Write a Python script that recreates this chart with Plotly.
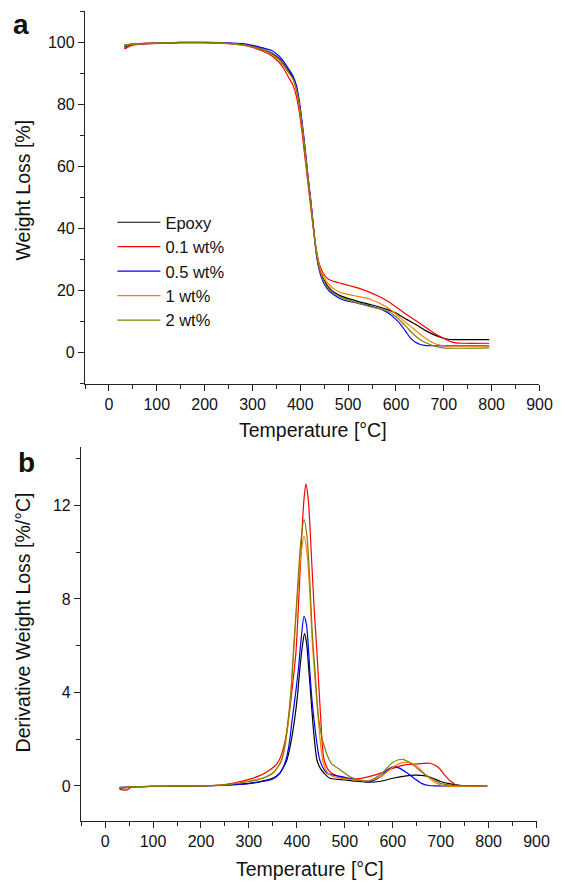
import plotly.graph_objects as go

# ---------------- Data ----------------
series_names = ["Epoxy", "0.1 wt%", "0.5 wt%", "1 wt%", "2 wt%"]
series_colors = ["#000000", "#ff0000", "#0000ff", "#ff8000", "#808000"]

# (a) TGA weight curves: temperature [°C] and weight [%]
tga_T_epoxy = [32, 40, 50, 75, 100, 150, 200, 250, 280, 300, 320, 340, 355, 365, 375, 385, 392, 398, 404, 410, 416, 419, 422, 428, 432, 436, 440, 446, 452, 460, 470, 487, 520, 548, 583, 600, 623, 645, 664, 680, 698, 710, 720, 795]
tga_W_epoxy = [98.3, 98.9, 99.2, 99.5, 99.7, 99.8, 99.8, 99.6, 99.2, 98.7, 97.8, 96.5, 94.8, 93.0, 90.8, 88.5, 85.0, 80.0, 73.0, 65.0, 56.5, 52.5, 48.5, 40.0, 34.5, 30.5, 27.5, 24.7, 22.8, 21.0, 19.6, 18.2, 16.6, 15.5, 13.9, 12.8, 10.7, 8.8, 7.0, 5.8, 4.8, 4.4, 4.3, 4.3]

tga_T_01 = [32, 40, 50, 75, 100, 150, 200, 250, 280, 300, 320, 340, 355, 365, 375, 385, 392, 398, 404, 410, 416, 419, 422, 428, 432, 436, 440, 446, 452, 460, 470, 487, 520, 548, 569, 583, 600, 623, 645, 664, 680, 698, 712, 726, 740, 795]
tga_W_01 = [97.8, 98.4, 99.0, 99.4, 99.6, 99.8, 99.8, 99.5, 99.0, 98.3, 97.2, 95.6, 93.6, 91.6, 88.8, 86.0, 82.5, 77.5, 70.5, 62.5, 54.5, 50.5, 46.5, 39.0, 34.5, 31.0, 28.5, 26.2, 24.7, 23.6, 23.0, 22.3, 20.9, 19.3, 17.8, 16.6, 14.8, 12.3, 10.0, 8.0, 6.3, 4.8, 3.8, 3.2, 3.1, 3.1]

tga_T_05 = [32, 40, 50, 75, 100, 150, 200, 250, 280, 300, 320, 340, 355, 365, 375, 385, 392, 398, 404, 410, 416, 419, 422, 428, 432, 436, 440, 446, 452, 460, 470, 487, 520, 548, 570, 583, 597, 610, 620, 630, 640, 651, 660, 671, 795]
tga_W_05 = [99.0, 99.2, 99.4, 99.6, 99.7, 99.9, 99.9, 99.8, 99.5, 99.0, 98.2, 97.3, 95.6, 93.8, 91.5, 89.0, 86.0, 81.0, 74.0, 66.0, 57.0, 53.0, 49.0, 39.5, 33.5, 29.2, 26.3, 23.5, 21.6, 20.0, 18.7, 17.2, 16.0, 15.0, 14.0, 12.9, 11.2, 9.1, 7.0, 4.8, 3.5, 2.7, 2.4, 2.3, 2.3]

tga_T_1 = [32, 40, 50, 75, 100, 150, 200, 250, 280, 300, 320, 340, 355, 365, 375, 385, 392, 398, 404, 410, 416, 419, 422, 428, 432, 436, 440, 446, 452, 460, 470, 487, 520, 548, 583, 600, 617, 635, 651, 665, 678, 690, 698, 710, 795]
tga_W_1 = [98.8, 99.1, 99.3, 99.6, 99.7, 99.9, 99.9, 99.6, 99.1, 98.5, 97.6, 96.2, 94.4, 92.6, 90.3, 88.0, 84.5, 79.5, 72.5, 64.5, 56.0, 52.0, 48.0, 39.5, 34.5, 30.8, 27.8, 25.3, 23.6, 22.0, 20.6, 19.3, 18.2, 17.2, 14.5, 12.5, 10.2, 8.0, 5.9, 4.4, 3.2, 2.6, 2.3, 2.2, 2.2]

tga_T_2 = [32, 40, 50, 75, 100, 150, 200, 250, 280, 300, 320, 340, 355, 365, 375, 385, 392, 398, 404, 410, 416, 419, 422, 428, 432, 436, 440, 446, 452, 460, 470, 487, 520, 548, 583, 597, 610, 623, 637, 655, 671, 685, 698, 795]
tga_W_2 = [99.0, 99.2, 99.4, 99.6, 99.7, 99.9, 99.9, 99.6, 99.1, 98.5, 97.6, 96.2, 94.4, 92.6, 90.3, 88.0, 84.5, 79.5, 72.5, 64.5, 56.0, 52.0, 48.0, 39.2, 34.0, 30.0, 27.0, 24.3, 22.2, 20.6, 19.2, 17.7, 16.0, 14.8, 13.4, 12.0, 10.2, 8.2, 5.9, 3.8, 2.7, 2.0, 1.6, 1.6]

# (b) DTG derivative curves: temperature [°C] and derivative weight loss [%/°C]
dtg_T_epoxy = [30, 50, 75, 100, 150, 200, 250, 300, 330, 349, 364, 372, 379, 387, 395, 401, 406, 411, 416, 420, 425, 429, 433, 437, 442, 449, 457, 469, 485, 500, 525, 550, 575, 600, 625, 645, 665, 685, 700, 720, 740, 760, 797]
dtg_V_epoxy = [-0.10, -0.06, -0.03, -0.02, -0.01, 0.0, 0.04, 0.11, 0.22, 0.33, 0.54, 0.8, 1.1, 1.8, 2.8, 3.8, 4.95, 5.9, 6.52, 6.15, 4.95, 3.9, 2.8, 1.9, 1.1, 0.75, 0.54, 0.33, 0.28, 0.26, 0.2, 0.16, 0.2, 0.33, 0.42, 0.46, 0.44, 0.32, 0.19, 0.09, 0.03, 0.0, 0.0]

dtg_T_01 = [30, 46, 54, 75, 100, 150, 200, 250, 300, 320, 338, 353, 363, 371, 379, 386, 392, 398, 404, 410, 415, 419, 424, 430, 436, 442, 450, 457, 469, 485, 500, 525, 550, 575, 600, 625, 650, 678, 695, 708, 718, 727, 734, 745, 797]
dtg_V_01 = [-0.15, -0.17, -0.06, -0.03, -0.02, -0.01, 0.0, 0.06, 0.28, 0.42, 0.61, 0.83, 1.1, 1.54, 2.3, 3.4, 4.5, 5.7, 8.0, 10.6, 12.3, 12.92, 12.2, 10.0, 7.6, 5.7, 2.8, 1.1, 0.6, 0.42, 0.33, 0.3, 0.4, 0.55, 0.75, 0.9, 0.94, 0.97, 0.8, 0.47, 0.25, 0.11, 0.03, 0.0, 0.0]

dtg_T_05 = [30, 50, 75, 100, 150, 200, 250, 300, 330, 350, 365, 377, 384, 390, 397, 403, 409, 415, 420, 427, 431, 436, 442, 448, 463, 480, 500, 525, 550, 575, 590, 603, 615, 630, 645, 660, 675, 690, 797]
dtg_V_05 = [-0.06, -0.04, -0.03, -0.02, -0.01, 0.0, 0.03, 0.1, 0.2, 0.3, 0.55, 1.1, 1.8, 2.8, 3.9, 4.95, 6.3, 7.25, 6.9, 4.95, 3.8, 2.8, 1.8, 1.1, 0.54, 0.45, 0.37, 0.25, 0.17, 0.4, 0.7, 0.83, 0.75, 0.55, 0.32, 0.11, 0.02, 0.0, 0.0]

dtg_T_1 = [30, 50, 75, 100, 150, 200, 250, 300, 330, 350, 360, 368, 375, 380, 387, 393, 400, 408, 415, 421, 427, 432, 437, 445, 454, 465, 480, 500, 525, 550, 575, 600, 620, 635, 650, 665, 680, 695, 710, 797]
dtg_V_1 = [-0.08, -0.05, -0.03, -0.02, -0.01, 0.0, 0.05, 0.21, 0.35, 0.54, 0.8, 1.1, 1.7, 2.4, 3.8, 5.6, 7.8, 9.8, 10.68, 10.0, 8.3, 6.2, 4.8, 2.8, 1.1, 0.54, 0.38, 0.3, 0.25, 0.22, 0.4, 0.8, 1.0, 1.0, 0.85, 0.55, 0.26, 0.08, 0.0, 0.0]

dtg_T_2 = [30, 50, 75, 100, 150, 200, 250, 300, 330, 350, 360, 368, 374, 380, 387, 393, 400, 408, 415, 421, 427, 432, 438, 446, 457, 472, 491, 510, 528, 550, 575, 600, 620, 640, 660, 680, 700, 725, 750, 797]
dtg_V_2 = [-0.08, -0.05, -0.03, -0.02, -0.01, 0.0, 0.05, 0.19, 0.33, 0.55, 0.8, 1.1, 1.6, 2.5, 3.9, 5.8, 8.0, 10.4, 11.39, 10.7, 8.8, 6.6, 4.9, 2.8, 1.7, 0.97, 0.68, 0.4, 0.26, 0.21, 0.5, 1.0, 1.14, 0.94, 0.6, 0.33, 0.11, 0.02, 0.0, 0.0]

x_ticks = [0, 100, 200, 300, 400, 500, 600, 700, 800, 900]
y_ticks_a = [0, 20, 40, 60, 80, 100]
y_ticks_b = [0, 4, 8, 12]

tga_T = [tga_T_epoxy, tga_T_01, tga_T_05, tga_T_1, tga_T_2]
tga_W = [tga_W_epoxy, tga_W_01, tga_W_05, tga_W_1, tga_W_2]
dtg_T = [dtg_T_epoxy, dtg_T_01, dtg_T_05, dtg_T_1, dtg_T_2]
dtg_V = [dtg_V_epoxy, dtg_V_01, dtg_V_05, dtg_V_1, dtg_V_2]

# ---------------- Figure ----------------
W, H = 574, 883
FONT = "Liberation Sans, Arial, sans-serif"
AX = "#222222"

fig = go.Figure()
for name, col, T, Wt in zip(series_names, series_colors, tga_T, tga_W):
    fig.add_trace(go.Scatter(x=T, y=Wt, mode="lines", name=name,
                             line=dict(color=col, width=1.2, shape="spline", smoothing=0.8),
                             xaxis="x", yaxis="y"))
for name, col, T, V in zip(series_names, series_colors, dtg_T, dtg_V):
    fig.add_trace(go.Scatter(x=T, y=V, mode="lines", name=name, showlegend=False,
                             line=dict(color=col, width=1.2, shape="spline", smoothing=0.8),
                             xaxis="x2", yaxis="y2"))

def px_x(p):
    return p / W

def px_y(p):
    return 1 - p / H

common = dict(showline=True, linecolor=AX, linewidth=1.3, ticks="outside", ticklen=6,
              tickwidth=1.3, tickcolor=AX, showgrid=False, zeroline=False,
              tickfont=dict(family=FONT, size=16, color="#111111"))

fig.update_layout(
    width=W, height=H, autosize=False,
    margin=dict(l=0, r=0, t=0, b=0),
    paper_bgcolor="white", plot_bgcolor="white",
    font=dict(family=FONT, color="#111111"),
    xaxis=dict(domain=[px_x(87), px_x(552)], anchor="y", range=[-50.01, 900.01],
               tickvals=x_ticks,
               minor=dict(dtick=50, tick0=0, ticks="outside", ticklen=3.5, tickwidth=1.3, tickcolor=AX),
               **common),
    yaxis=dict(domain=[px_y(384), px_y(11)], anchor="x", range=[-10.01, 110.01],
               tickvals=y_ticks_a,
               minor=dict(dtick=10, tick0=0, ticks="outside", ticklen=3.5, tickwidth=1.3, tickcolor=AX),
               **common),
    xaxis2=dict(domain=[px_x(83), px_x(549)], anchor="y2", range=[-50.01, 900.01],
                tickvals=x_ticks,
                minor=dict(dtick=50, tick0=0, ticks="outside", ticklen=3.5, tickwidth=1.3, tickcolor=AX),
                **common),
    yaxis2=dict(domain=[px_y(821), px_y(447)], anchor="x2", range=[-1.5, 14.5],
                tickvals=y_ticks_b,
                minor=dict(dtick=2, tick0=0, ticks="outside", ticklen=3.5, tickwidth=1.3, tickcolor=AX),
                **common),
    legend=dict(x=px_x(115), y=px_y(205), xanchor="left", yanchor="top",
                bgcolor="rgba(0,0,0,0)", borderwidth=0,
                font=dict(family=FONT, size=16.5, color="#111111"),
                tracegroupgap=0, itemwidth=43),
    showlegend=True,
)

ann = [
    dict(text="<b>a</b>", x=px_x(21), y=px_y(24), font=dict(size=28)),
    dict(text="<b>b</b>", x=px_x(27), y=px_y(462), font=dict(size=28)),
    dict(text="Weight Loss [%]", x=px_x(24), y=px_y(190), textangle=-90, font=dict(size=19.5)),
    dict(text="Derivative Weight Loss [%/°C]", x=px_x(24), y=px_y(622), textangle=-90, font=dict(size=19.5)),
    dict(text="Temperature [°C]", x=px_x(320), y=px_y(430), font=dict(size=19.5)),
    dict(text="Temperature [°C]", x=px_x(317), y=px_y(869), font=dict(size=19.5)),
]
for a in ann:
    a.update(xref="paper", yref="paper", showarrow=False, xanchor="center", yanchor="middle")
    a["font"].update(family=FONT, color="#111111")
fig.update_layout(annotations=ann)

post = ("document.documentElement.style.overflow='hidden';"
        "document.body.style.overflow='hidden';"
        "document.body.style.margin='0';")
fig.write_html("out.html", config={"responsive": False}, post_script=post)
